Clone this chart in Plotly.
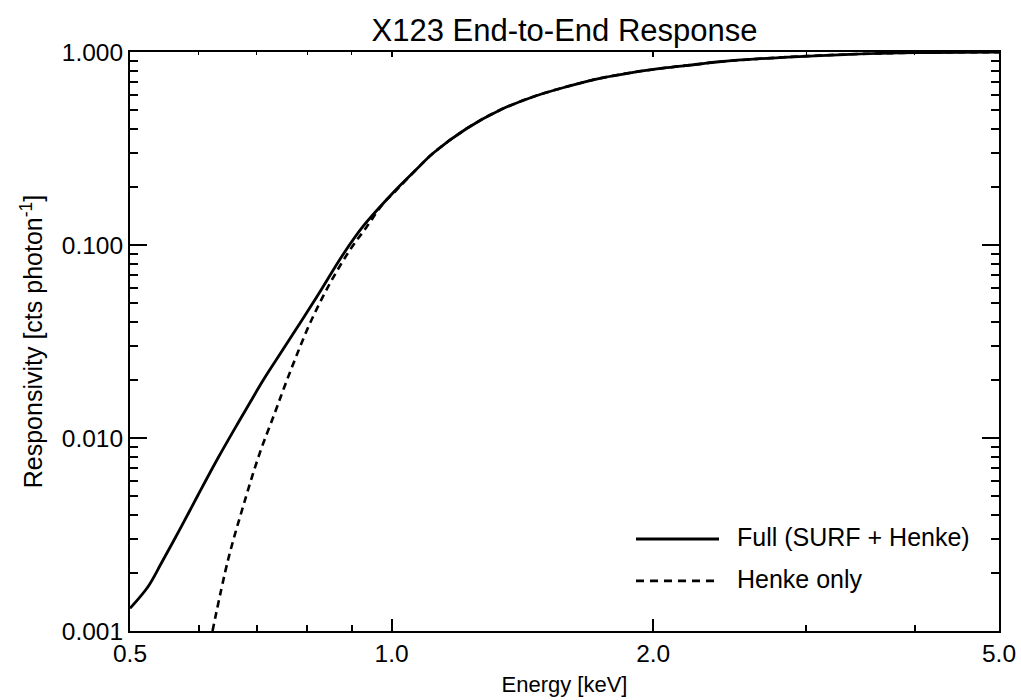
import math
import plotly.graph_objects as go

# ---- data ----
energy_full = [0.5000, 0.5244, 0.5432, 0.5728, 0.5988, 0.6313, 0.6657, 0.6872, 0.7112, 0.7505,
               0.8200, 0.8801, 0.9280, 0.9959, 1.0226, 1.0689, 1.1169, 1.2202, 1.3332, 1.4557,
               1.5904, 1.7372, 1.8971, 2.0728, 2.2640, 2.3663, 2.8234, 3.3699, 4.0206, 5.0000]
resp_full = [0.001311, 0.001696, 0.002243, 0.003471, 0.005066, 0.007875, 0.011960, 0.015275, 0.019862, 0.028914,
             0.053766, 0.08982, 0.12546, 0.17942, 0.20336, 0.24756, 0.29965, 0.40150, 0.50058, 0.58661,
             0.66112, 0.73071, 0.78476, 0.82916, 0.86648, 0.88758, 0.93871, 0.97293, 0.99168, 0.999]

energy_henke = [0.6222, 0.6483, 0.6746, 0.7050, 0.7336, 0.7519, 0.7741, 0.8055, 0.8493, 0.8955,
                0.9364, 0.9783, 1.0117, 1.0689, 1.1169, 1.2202, 1.3332, 1.4557, 1.5904, 1.7372,
                1.8971, 2.0728, 2.2640, 2.3663, 2.8234, 3.3699, 4.0206, 5.0000]
resp_henke = [0.0010, 0.002333, 0.004406, 0.008329, 0.013428, 0.018155, 0.025510, 0.039283, 0.063300, 0.094209,
              0.12441, 0.16444, 0.19155, 0.24756, 0.29965, 0.40150, 0.50058, 0.58661, 0.66112, 0.73071,
              0.78476, 0.82916, 0.86648, 0.88758, 0.93871, 0.97293, 0.99168, 0.999]

x_major = [0.5, 1.0, 2.0, 5.0]
x_major_text = ["0.5", "1.0", "2.0", "5.0"]
x_minor = [0.6, 0.7, 0.8, 0.9, 3.0, 4.0]
y_major = [0.001, 0.01, 0.1, 1.0]
y_major_text = ["0.001", "0.010", "0.100", "1.000"]
y_minor = [m * d for d in (0.001, 0.01, 0.1) for m in range(2, 10)]

legend_labels = ["Full (SURF + Henke)", "Henke only"]
title_text = "X123 End-to-End Response"

FONT = "Liberation Sans, Arial, Helvetica, sans-serif"

fig = go.Figure()
fig.add_trace(go.Scatter(x=energy_henke, y=resp_henke, mode="lines",
                         line=dict(color="black", width=2.6, dash="7px,5px", shape="spline", smoothing=1.0),
                         name=legend_labels[1], showlegend=False, hoverinfo="skip"))
fig.add_trace(go.Scatter(x=energy_full, y=resp_full, mode="lines",
                         line=dict(color="black", width=2.8, shape="spline", smoothing=1.0),
                         name=legend_labels[0], showlegend=False, hoverinfo="skip"))
# invisible helper trace for the top tick axis
fig.add_trace(go.Scatter(x=energy_full, y=resp_full, mode="lines", xaxis="x2",
                         line=dict(color="rgba(0,0,0,0)", width=0),
                         showlegend=False, hoverinfo="skip"))

xr = [math.log10(0.5), math.log10(5.0)]

fig.update_layout(
    width=1021, height=700,
    margin=dict(l=130, r=22, t=52, b=69, autoexpand=False),
    paper_bgcolor="white", plot_bgcolor="white",
    font=dict(family=FONT, color="black"),
    showlegend=False,
    title=dict(text=title_text, x=0.5, xref="paper", xanchor="center",
               y=1 - 30 / 700, yref="container", yanchor="middle",
               font=dict(size=31, family=FONT, color="black")),
    xaxis=dict(type="log", range=xr, tickmode="array", tickvals=x_major, ticktext=x_major_text,
               ticks="inside", ticklen=12, tickwidth=2, tickcolor="black",
               showline=True, linewidth=2, linecolor="black", mirror=True,
               showgrid=False, zeroline=False, automargin=False,
               tickfont=dict(size=24.5, family=FONT),
               minor=dict(tickmode="array", tickvals=x_minor, ticks="inside", ticklen=6,
                          tickwidth=1.5, tickcolor="black", showgrid=False),
               title=dict(text="Energy [keV]", font=dict(size=22, family=FONT), standoff=10)),
    xaxis2=dict(type="log", range=xr, overlaying="x", side="top", anchor="y",
                tickmode="array", tickvals=x_major, showticklabels=False,
                ticks="inside", ticklen=5, tickwidth=1.5, tickcolor="black",
                showline=False, showgrid=False, zeroline=False, automargin=False,
                minor=dict(tickmode="array", tickvals=x_minor, ticks="inside", ticklen=3,
                           tickwidth=1.2, tickcolor="black", showgrid=False)),
    yaxis=dict(type="log", range=[-3, 0], tickmode="array", tickvals=y_major, ticktext=y_major_text,
               ticks="inside", ticklen=17, tickwidth=2, tickcolor="black",
               showline=True, linewidth=2, linecolor="black", mirror="ticks",
               showgrid=False, zeroline=False, automargin=False,
               tickfont=dict(size=24.5, family=FONT),
               minor=dict(tickmode="array", tickvals=y_minor, ticks="inside", ticklen=8,
                          tickwidth=1.5, tickcolor="black", showgrid=False),
               title=dict(text="Responsivity [cts photon<sup>-1</sup>]",
                          font=dict(size=25, family=FONT), standoff=12)),
)

# hand-drawn legend (long sample lines as in the reference)
leg_x0, leg_x1, leg_tx = 0.5823, 0.6778, 0.6962
leg_rows = [0.1589, 0.0864]
leg_dash = ["solid", "8px,6px"]
for lbl, yy, dsh in zip(legend_labels, leg_rows, leg_dash):
    fig.add_shape(type="line", xref="paper", yref="paper", x0=leg_x0, x1=leg_x1, y0=yy, y1=yy,
                  line=dict(color="black", width=2.8, dash=dsh))
    fig.add_annotation(text=lbl, xref="paper", yref="paper", x=leg_tx, y=yy + 0.004,
                       xanchor="left", yanchor="middle", showarrow=False,
                       font=dict(size=25, family=FONT, color="black"))

fig.write_html("out.html")
